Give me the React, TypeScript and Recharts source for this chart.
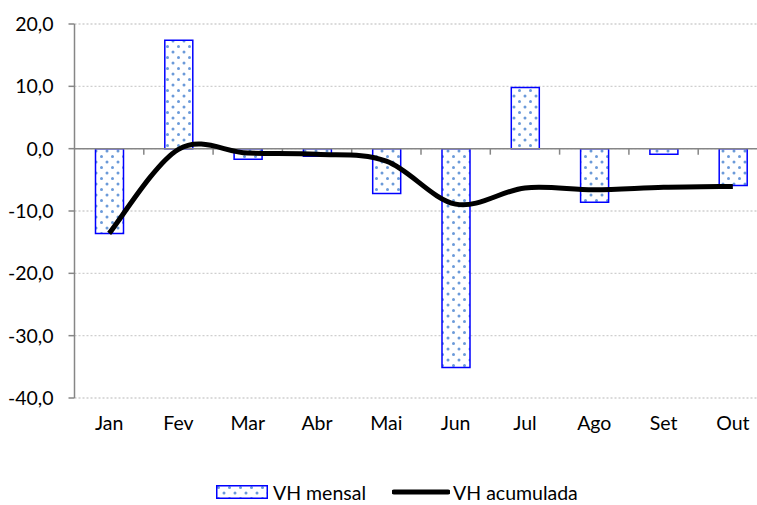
import React from 'react';
import { ComposedChart, Bar, Line, XAxis, YAxis, CartesianGrid, ReferenceLine, Legend } from 'recharts';

const months = ['Jan', 'Fev', 'Mar', 'Abr', 'Mai', 'Jun', 'Jul', 'Ago', 'Set', 'Out'];
const vhMensal = [-13.6, 17.4, -1.7, -1.2, -7.2, -35.1, 9.8, -8.6, -0.9, -5.9];
const vhAcumulada = [-13.6, -0.1, -0.7, -0.9, -2.0, -8.9, -6.3, -6.6, -6.2, -6.05];
const yTicks = [20, 10, 0, -10, -20, -30, -40];
const seriesNames = { mensal: 'VH mensal', acum: 'VH acumulada' };

const data = months.map((m, i) => ({ month: m, mensal: vhMensal[i], acum: vhAcumulada[i] }));

const FONT = 'Lato, "Open Sans", sans-serif';
const AXIS = '#868686';
const FS = 19.5;

// Excel-like smoothed line (Catmull-Rom as cubic Bezier)
const excelCurve = (context: any) => {
  let pts: [number, number][] = [];
  return {
    areaStart() {},
    areaEnd() {},
    lineStart() {
      pts = [];
    },
    lineEnd() {
      const n = pts.length;
      if (!n) return;
      context.moveTo(pts[0][0], pts[0][1]);
      const t = 1 / 6;
      for (let i = 0; i < n - 1; i++) {
        const p0 = pts[Math.max(i - 1, 0)];
        const p1 = pts[i];
        const p2 = pts[i + 1];
        const p3 = pts[Math.min(i + 2, n - 1)];
        context.bezierCurveTo(
          p1[0] + (p2[0] - p0[0]) * t,
          p1[1] + (p2[1] - p0[1]) * t,
          p2[0] - (p3[0] - p1[0]) * t,
          p2[1] - (p3[1] - p1[1]) * t,
          p2[0],
          p2[1]
        );
      }
    },
    point(x: number, y: number) {
      pts.push([+x, +y]);
    },
  };
};

const ZeroAxis = (props: any) => {
  const { x1, y1, x2, y2 } = props;
  const n = months.length;
  const step = (x2 - x1) / n;
  const ticks = [];
  for (let i = 1; i < n; i++) {
    const x = x1 + step * i;
    ticks.push(<line key={i} x1={x} x2={x} y1={y1} y2={y1 + 6} stroke={AXIS} strokeWidth={1.5} />);
  }
  return (
    <g>
      <line x1={x1} y1={y1} x2={x2} y2={y2} stroke={AXIS} strokeWidth={1.5} />
      {ticks}
    </g>
  );
};

const LegendContent = () => (
  <div
    style={{
      display: 'flex',
      justifyContent: 'flex-start',
      alignItems: 'center',
      height: 40,
      paddingTop: 14,
      paddingLeft: 216,
      boxSizing: 'border-box',
      fontFamily: FONT,
      fontSize: FS,
      color: '#000',
    }}
  >
    <svg width={52} height={14} style={{ marginRight: 5 }}>
      <rect x={0.75} y={0.75} width={50.5} height={12.5} fill="url(#dots)" stroke="#0000FF" strokeWidth={1.5} />
    </svg>
    <span style={{ marginRight: 26 }}>{seriesNames.mensal}</span>
    <svg width={58} height={6} style={{ marginRight: 3 }}>
      <line x1={2} y1={3} x2={56} y2={3} stroke="#000" strokeWidth={5} strokeLinecap="round" />
    </svg>
    <span>{seriesNames.acum}</span>
  </div>
);

export default function App() {
  return (
    <div style={{ position: 'fixed', left: 0, top: 0, width: 757, height: 505, overflow: 'hidden', background: '#fff' }}>
      <svg width={0} height={0} style={{ position: 'absolute' }}>
        <defs>
          <pattern id="dots" width={11} height={11} patternUnits="userSpaceOnUse">
            <rect width={11} height={11} fill="#fff" />
            <circle cx={2.5} cy={2.5} r={1.5} fill="#6b9ad9" />
            <circle cx={8} cy={8} r={1.5} fill="#6b9ad9" />
          </pattern>
        </defs>
      </svg>
      <ComposedChart
        width={790}
        height={505}
        data={data}
        margin={{ top: 24, right: 22.5, bottom: 0, left: 0 }}
        style={{ fontFamily: FONT }}
      >
        <CartesianGrid vertical={false} stroke="#cfcfcf" strokeDasharray="2 2" strokeWidth={1.3} />
        <XAxis
          dataKey="month"
          axisLine={false}
          tickLine={false}
          tickSize={0}
          tickMargin={18}
          height={67}
          interval={0}
          tick={{ fill: '#000', fontSize: FS, fontFamily: FONT }}
        />
        <YAxis
          type="number"
          domain={[-40, 20]}
          ticks={yTicks}
          width={74.5}
          interval={0}
          axisLine={{ stroke: AXIS, strokeWidth: 1.5 }}
          tickLine={{ stroke: AXIS, strokeWidth: 1.5 }}
          tickSize={6}
          tickMargin={15}
          tickFormatter={(v: number) => v.toFixed(1).replace('.', ',')}
          tick={{ fill: '#000', fontSize: FS, fontFamily: FONT }}
        />
        <Bar
          dataKey="mensal"
          name={seriesNames.mensal}
          barSize={28}
          fill="url(#dots)"
          stroke="#0000FF"
          strokeWidth={1.5}
          isAnimationActive={false}
        />
        <ReferenceLine y={0} shape={<ZeroAxis />} />
        <Line
          dataKey="acum"
          name={seriesNames.acum}
          type={excelCurve as any}
          stroke="#000"
          strokeWidth={5}
          dot={false}
          activeDot={false}
          isAnimationActive={false}
        />
        <Legend
          verticalAlign="bottom"
          height={40}
          wrapperStyle={{ left: 0, width: 800 }}
          content={<LegendContent />}
        />
      </ComposedChart>
    </div>
  );
}
